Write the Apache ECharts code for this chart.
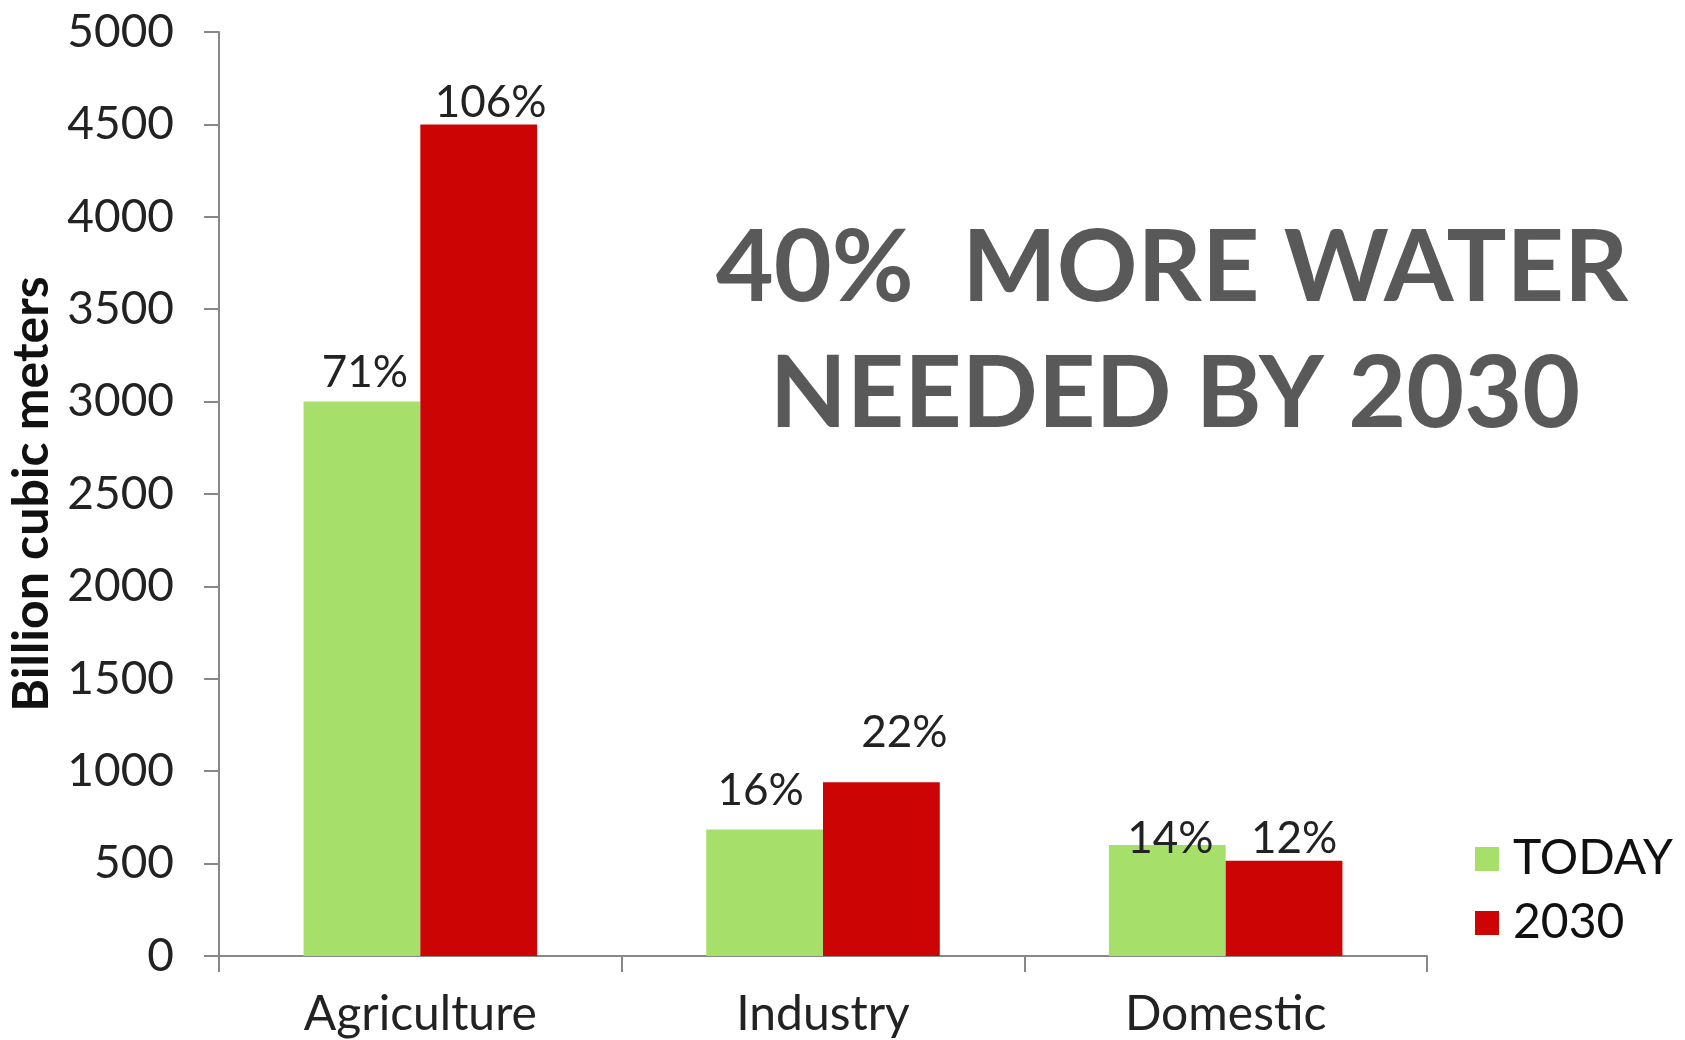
<!DOCTYPE html>
<html>
<head>
<meta charset="utf-8">
<script src="https://cdn.jsdelivr.net/npm/echarts@6/dist/echarts.min.js"></script>
<style>
  html, body { margin: 0; padding: 0; background: #fff; }
  #chart { width: 1685px; height: 1040px; }
</style>
</head>
<body>
<div id="chart"></div>
<script>
// data
var categories = ['Agriculture', 'Industry', 'Domestic'];
var todayValues = [3000, 685, 600];
var futureValues = [4500, 940, 515];
var todayShares = ['71%', '16%', '14%'];
var futureShares = ['106%', '22%', '12%'];
var yTicks = [0, 500, 1000, 1500, 2000, 2500, 3000, 3500, 4000, 4500, 5000];

// label nudges so the percentages sit where the original put them
var todayNudge = [[3, -7], [-4, -17], [3, 16]];
var futureNudge = [[12, 0], [23, -27], [10, 0]];

var font = 'Lato, "Open Sans", sans-serif';

function withLabels(values, shares, nudge) {
	return values.map(function (v, i) {
		return {
			value: v,
			label: { formatter: shares[i], offset: nudge[i] }
		};
	});
}

var myChart = echarts.init(document.getElementById('chart'));

var option = {
	animation: false,
	backgroundColor: '#fff',
	grid: { left: 219, right: 258, top: 32, bottom: 84, containLabel: false, outerBoundsMode: 'none' },
	legend: {
		orient: 'vertical',
		left: 1470,
		top: 830,
		itemWidth: 24,
		itemHeight: 24,
		itemGap: 16,
		icon: 'rect',
		data: ['TODAY', '2030'],
		textStyle: { fontFamily: font, fontSize: 48, color: '#111', lineHeight: 48, padding: [0, 0, 0, 9] }
	},
	xAxis: {
		type: 'category',
		data: categories,
		axisLine: { lineStyle: { color: '#888', width: 2 } },
		axisTick: { show: true, length: 16, lineStyle: { color: '#888', width: 2 } },
		axisLabel: { fontFamily: font, fontSize: 48, color: '#222', margin: 35 }
	},
	yAxis: {
		type: 'value',
		min: yTicks[0],
		max: yTicks[yTicks.length - 1],
		interval: 500,
		name: 'Billion cubic meters',
		nameLocation: 'middle',
		nameRotate: 90,
		nameGap: 159,
		nameTextStyle: { fontFamily: font, fontSize: 50, fontWeight: 'bold', color: '#111' },
		axisLine: { show: true, lineStyle: { color: '#888', width: 2 } },
		axisTick: { show: true, length: 15, lineStyle: { color: '#888', width: 2 } },
		splitLine: { show: false },
		axisLabel: {
			fontFamily: font, fontSize: 46, color: '#222', margin: 45,
			formatter: function (v) { return String(v); }
		}
	},
	series: [{
		name: 'TODAY',
		type: 'bar',
		barGap: '0%',
		barCategoryGap: '42%',
		itemStyle: { color: '#a6e06b' },
		label: { show: true, position: 'top', distance: 0, fontFamily: font, fontSize: 44, color: '#222' },
		data: withLabels(todayValues, todayShares, todayNudge)
	}, {
		name: '2030',
		type: 'bar',
		itemStyle: { color: '#cc0404' },
		label: { show: true, position: 'top', distance: 0, fontFamily: font, fontSize: 44, color: '#222' },
		data: withLabels(futureValues, futureShares, futureNudge)
	}],
	graphic: [{
		type: 'text',
		x: 1172,
		y: 269,
		style: {
			text: '40%  MORE WATER',
			align: 'center',
			verticalAlign: 'middle',
			font: 'bold 100px ' + font,
			fill: '#595959'
		}
	}, {
		type: 'text',
		x: 1175,
		y: 395,
		style: {
			text: 'NEEDED BY 2030',
			align: 'center',
			verticalAlign: 'middle',
			font: 'bold 100px ' + font,
			fill: '#595959'
		}
	}]
};

myChart.setOption(option);
</script>
</body>
</html>
